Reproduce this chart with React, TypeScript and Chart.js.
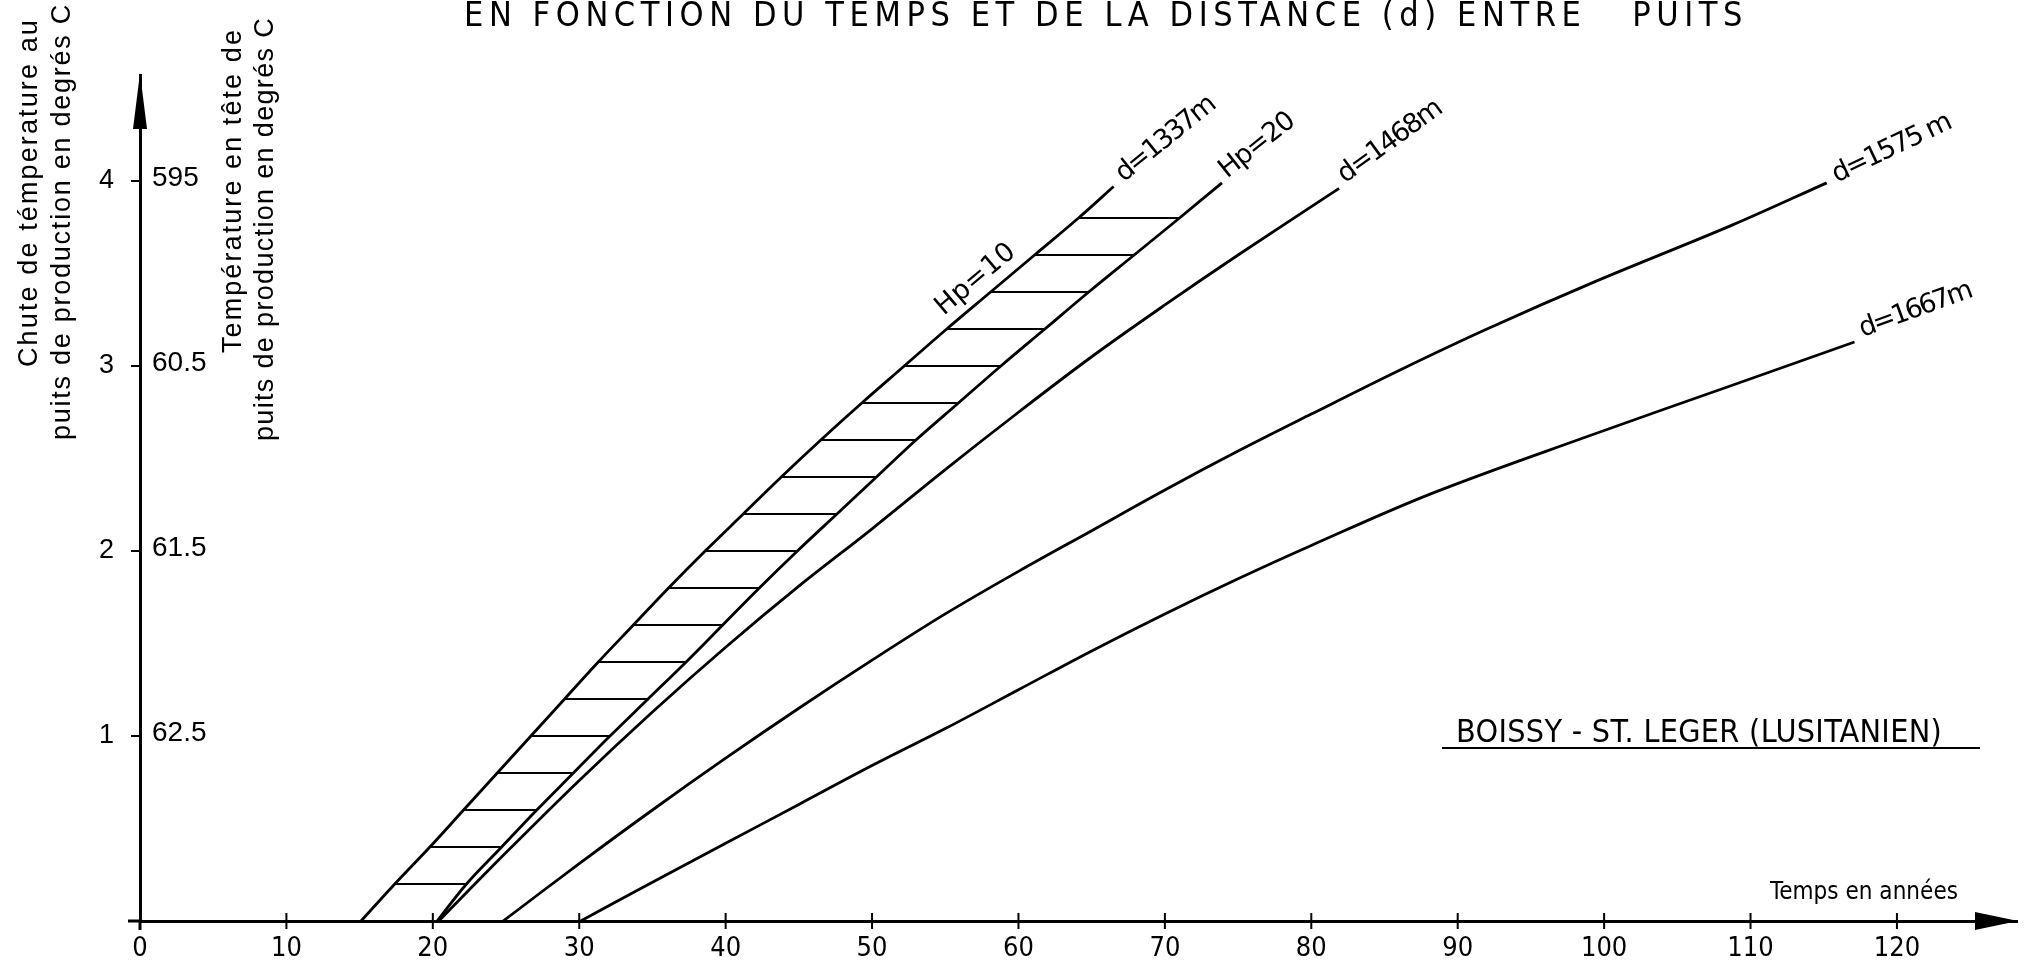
import React, { useEffect, useRef } from 'react';
import { Chart, registerables } from 'chart.js';

Chart.register(...registerables);

// ---------------- data ----------------
const X_TICKS = [0, 10, 20, 30, 40, 50, 60, 70, 80, 90, 100, 110, 120];
const Y_TICKS = [1, 2, 3, 4];
const TEMP_TICKS = [1, 2, 3, 4];
const TEMP_LABELS = ['62.5', '61.5', '60.5', '595'];

// d = 1337 m, Hp = 10 (upper edge of hatched band)
const HP10_X = [15.1, 17.4, 19.8, 22.1, 24.4, 26.7, 29.0, 31.3, 33.7, 36.1, 38.6, 41.2, 43.8, 46.5, 49.3, 52.2, 55.1, 58.1, 61.1, 64.1, 66.5];
const HP10_Y = [0, 0.2, 0.4, 0.6, 0.8, 1.0, 1.2, 1.4, 1.6, 1.8, 2.0, 2.2, 2.4, 2.6, 2.8, 3.0, 3.2, 3.4, 3.6, 3.8, 3.97];
// d = 1337 m, Hp = 20 (lower edge of hatched band)
const HP20_X = [20.3, 22.3, 24.7, 27.1, 29.6, 32.1, 34.7, 37.3, 39.8, 42.3, 44.9, 47.6, 50.3, 53.0, 55.9, 58.8, 61.8, 64.8, 67.9, 71.0, 73.9];
const HP20_Y = [0, 0.2, 0.4, 0.6, 0.8, 1.0, 1.2, 1.4, 1.6, 1.8, 2.0, 2.2, 2.4, 2.6, 2.8, 3.0, 3.2, 3.4, 3.6, 3.8, 3.99];
// d = 1468 m
const D1468_X = [20.4, 25, 30, 35, 40, 45, 50, 55, 60, 65, 70, 75, 81.9];
const D1468_Y = [0, 0.37, 0.76, 1.13, 1.48, 1.81, 2.12, 2.44, 2.75, 3.05, 3.33, 3.6, 3.96];
// d = 1575 m
const D1575_X = [24.8, 30, 35, 40, 45, 50, 55, 60, 65, 70, 75, 80, 86.1, 92, 99.5, 108.7, 115.2];
const D1575_Y = [0, 0.31, 0.6, 0.88, 1.15, 1.41, 1.66, 1.89, 2.11, 2.33, 2.54, 2.74, 2.98, 3.2, 3.46, 3.76, 3.99];
// d = 1667 m
const D1667_X = [30.1, 35, 40, 45, 50, 55, 60, 65, 70, 75, 80, 88.2, 98.9, 108.9, 117.1];
const D1667_Y = [0, 0.21, 0.42, 0.63, 0.84, 1.04, 1.25, 1.46, 1.66, 1.85, 2.03, 2.31, 2.62, 2.9, 3.13];

const CURVE_LABELS = ['d=1337m', 'Hp=20', 'd=1468m', 'd=1575 m', 'd=1667m'];
const HP10_LABEL = 'Hp=10';
const HP10_LABEL_AT = { x: 54.9, y: 3.27 };

const TITLE = 'EN FONCTION DU TEMPS ET DE LA DISTANCE (d) ENTRE   PUITS';
const X_TITLE = 'Temps en années';
const Y_TITLE_1 = ['Chute de témperature au', 'puits de production en degrés C'];
const Y_TITLE_2 = ['Température en tête de', 'puits de production en degrés C'];
const SITE = 'BOISSY - ST. LEGER (LUSITANIEN)';

// ---------------- helpers ----------------
const pts = (xs: number[], ys: number[]) => xs.map((x, i) => ({ x, y: ys[i] }));

function fitText(ctx: any, text: string, x: number, y: number, target: number) {
  ctx.save();
  ctx.textAlign = 'left';
  if ('letterSpacing' in ctx) {
    ctx.letterSpacing = '0px';
    const w = ctx.measureText(text).width;
    ctx.letterSpacing = (target - w) / text.length + 'px';
    ctx.fillText(text, x, y);
  } else {
    const w = ctx.measureText(text).width;
    ctx.translate(x, y);
    ctx.scale(target / w, 1);
    ctx.fillText(text, 0, 0);
  }
  ctx.restore();
}

function rotText(ctx: any, text: string, x: number, y: number, angleDeg: number, target: number) {
  ctx.save();
  ctx.translate(x, y);
  ctx.rotate((angleDeg * Math.PI) / 180);
  ctx.textBaseline = 'alphabetic';
  fitText(ctx, text, 0, 0, target);
  ctx.restore();
}

const SANS = '"Liberation Sans", Arial, sans-serif';
const NARROW = '"Liberation Sans Narrow", "DejaVu Sans Condensed", sans-serif';
const HAND = '"DejaVu Sans", sans-serif';

const annotate = {
  id: 'annotate',
  afterDraw(chart: any) {
    const { ctx } = chart;
    const xs = chart.scales.x;
    const ys = chart.scales.y;
    const x0 = xs.getPixelForValue(0);
    const y0 = ys.getPixelForValue(0);
    const { top, right } = chart.chartArea;
    ctx.save();
    ctx.strokeStyle = '#000';
    ctx.fillStyle = '#000';
    ctx.lineCap = 'butt';

    // axis stubs beyond the origin
    ctx.lineWidth = 3;
    ctx.beginPath();
    ctx.moveTo(x0 - 12, y0);
    ctx.lineTo(x0, y0);
    ctx.moveTo(x0, y0);
    ctx.lineTo(x0, y0 + 9);
    ctx.stroke();

    // arrows
    ctx.beginPath();
    ctx.moveTo(x0, top - 2);
    ctx.lineTo(x0 - 7, top + 54);
    ctx.lineTo(x0 + 7, top + 54);
    ctx.closePath();
    ctx.fill();
    ctx.beginPath();
    ctx.moveTo(right + 1, y0);
    ctx.lineTo(right - 42, y0 - 9);
    ctx.lineTo(right - 42, y0 + 9);
    ctx.closePath();
    ctx.fill();

    // tick marks
    ctx.lineWidth = 2;
    ctx.beginPath();
    X_TICKS.forEach((v) => {
      if (v === 0) return;
      const px = xs.getPixelForValue(v);
      ctx.moveTo(px, y0 - 8);
      ctx.lineTo(px, y0 + 8);
    });
    Y_TICKS.forEach((v) => {
      const py = ys.getPixelForValue(v);
      ctx.moveTo(x0 - 9, py);
      ctx.lineTo(x0, py);
    });
    ctx.stroke();

    // temperature labels on the right side of the y axis
    ctx.font = `28px ${SANS}`;
    ctx.textAlign = 'left';
    ctx.textBaseline = 'middle';
    TEMP_TICKS.forEach((v, i) => {
      ctx.fillText(TEMP_LABELS[i], x0 + 12, ys.getPixelForValue(v) - 3);
    });

    // curve end labels
    const curves = [
      [HP10_X, HP10_Y, 10, -4, -39, 119],
      [HP20_X, HP20_Y, 5, -4, -38.5, 88],
      [D1468_X, D1468_Y, 6, -5, -36, 121],
      [D1575_X, D1575_Y, 10, 0, -25.5, 128],
      [D1667_X, D1667_Y, 8, -5, -20, 117],
    ] as any[];
    ctx.font = `27px ${HAND}`;
    curves.forEach((c, i) => {
      const xa = c[0] as number[];
      const ya = c[1] as number[];
      const px = xs.getPixelForValue(xa[xa.length - 1]) + c[2];
      const py = ys.getPixelForValue(ya[ya.length - 1]) + c[3];
      rotText(ctx, CURVE_LABELS[i], px, py, c[4], c[5]);
    });
    rotText(ctx, HP10_LABEL, xs.getPixelForValue(HP10_LABEL_AT.x), ys.getPixelForValue(HP10_LABEL_AT.y), -40.3, 96);

    // title
    ctx.font = `34px ${NARROW}`;
    ctx.textBaseline = 'alphabetic';
    fitText(ctx, TITLE, 464, 26, 1284);

    // y-axis titles (rotated)
    ctx.font = `27px ${SANS}`;
    rotText(ctx, Y_TITLE_1[0], 37, 367, -90, 349);
    rotText(ctx, Y_TITLE_1[1], 70, 440, -90, 437);
    rotText(ctx, Y_TITLE_2[0], 241, 353, -90, 325);
    rotText(ctx, Y_TITLE_2[1], 273, 441, -90, 424);

    // x-axis title
    ctx.font = `24px ${NARROW}`;
    fitText(ctx, X_TITLE, 1770, 899, 188);

    // site caption with underline
    ctx.font = `32px ${NARROW}`;
    fitText(ctx, SITE, 1456, 742, 486);
    ctx.lineWidth = 2;
    ctx.beginPath();
    ctx.moveTo(1442, 748);
    ctx.lineTo(1980, 748);
    ctx.stroke();

    ctx.restore();
  },
};

export default function App() {
  const ref = useRef<HTMLCanvasElement | null>(null);

  useEffect(() => {
    if (!ref.current) return;
    const line = {
      borderColor: '#000',
      borderWidth: 2.8,
      pointRadius: 0,
      fill: false,
      tension: 0.35,
    };
    const hatch = HP10_Y.slice(1, HP10_Y.length - 1).map((y, k) => ({
      data: [
        { x: HP10_X[k + 1], y },
        { x: HP20_X[k + 1], y },
      ],
      borderColor: '#000',
      borderWidth: 2,
      pointRadius: 0,
      fill: false,
    }));
    const chart = new Chart(ref.current, {
      type: 'line',
      data: {
        datasets: [
          { label: 'Hp=10', data: pts(HP10_X, HP10_Y), ...line },
          { label: 'Hp=20', data: pts(HP20_X, HP20_Y), ...line },
          { label: 'd=1468m', data: pts(D1468_X, D1468_Y), ...line },
          { label: 'd=1575m', data: pts(D1575_X, D1575_Y), ...line },
          { label: 'd=1667m', data: pts(D1667_X, D1667_Y), ...line },
          ...hatch,
        ] as any,
      },
      options: {
        responsive: false,
        devicePixelRatio: 1,
        animation: false,
        events: [],
        layout: { padding: { top: 75, right: 8, left: 0, bottom: 0 } },
        plugins: { legend: { display: false }, tooltip: { enabled: false }, title: { display: false } },
        scales: {
          x: {
            type: 'linear',
            min: 0,
            max: 128.2,
            afterFit: (s: any) => {
              s.height = 43;
            },
            afterBuildTicks: (s: any) => {
              s.ticks = X_TICKS.map((v) => ({ value: v }));
            },
            grid: { display: false },
            border: { display: true, color: '#000', width: 3 },
            ticks: {
              color: '#000',
              font: { family: NARROW, size: 27 },
              padding: 4,
              maxRotation: 0,
              autoSkip: false,
              callback: (v: any) => String(v),
            },
          },
          y: {
            type: 'linear',
            min: 0,
            max: 4.573,
            afterFit: (s: any) => {
              s.width = 140;
            },
            afterBuildTicks: (s: any) => {
              s.ticks = Y_TICKS.map((v) => ({ value: v }));
            },
            grid: { display: false },
            border: { display: true, color: '#000', width: 3 },
            ticks: {
              color: '#000',
              font: { family: SANS, size: 27 },
              padding: 18,
              autoSkip: false,
              callback: (v: any) => String(v),
            },
          },
        },
      },
      plugins: [annotate],
    });
    return () => chart.destroy();
  }, []);

  return (
    <div style={{ position: 'fixed', left: 0, top: 0, width: 2025, height: 964, background: '#fff' }}>
      <canvas ref={ref} width={2025} height={964} style={{ display: 'block', width: 2025, height: 964 }} />
    </div>
  );
}
